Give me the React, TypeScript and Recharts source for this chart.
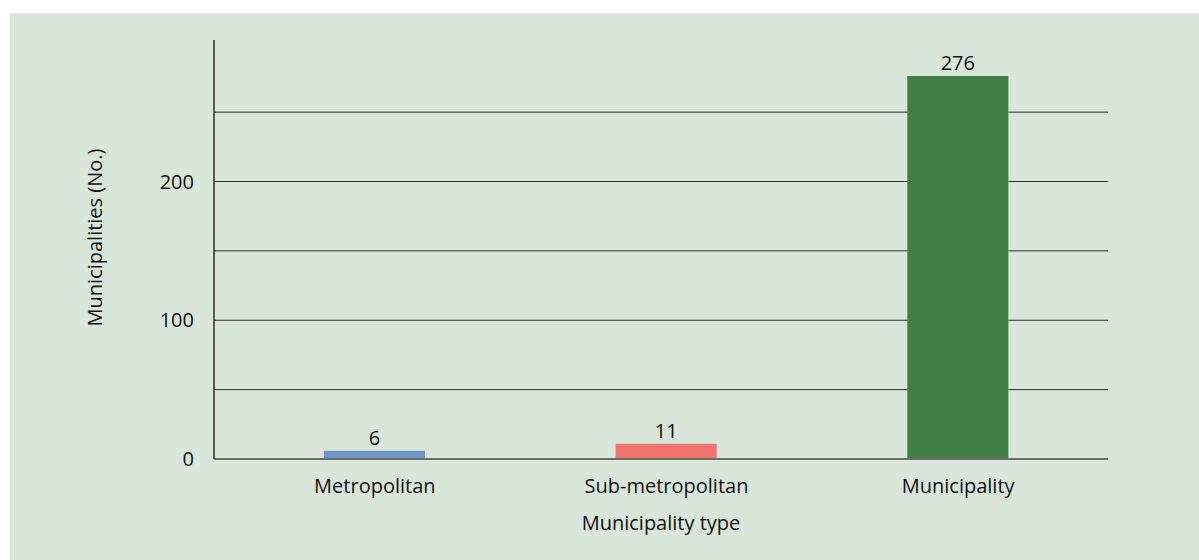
import React from "react";
import {
  BarChart,
  Bar,
  XAxis,
  YAxis,
  CartesianGrid,
  Cell,
  LabelList,
  Label,
} from "recharts";

const categories = ["Metropolitan", "Sub-metropolitan", "Municipality"];
const counts = [6, 11, 276];
const barColors = ["#7094cd", "#f2746f", "#3f7f45"];
const yTicks = [0, 50, 100, 150, 200, 250];
const labelledTicks = [0, 100, 200];

const data = categories.map((name, i) => ({ name, count: counts[i] }));

const FONT = "'Open Sans', Lato, sans-serif";
const textStyle = { fontSize: 20, fill: "#111", fontFamily: FONT };

export default function App() {
  return (
    <div
      style={{
        position: "absolute",
        left: 10,
        top: 13,
        width: 1189,
        height: 547,
        background: "#d9e6da",
        fontFamily: FONT,
      }}
    >
      <BarChart
        width={1189}
        height={547}
        data={data}
        margin={{ top: 27, right: 91, bottom: 71, left: 0 }}
      >
        <CartesianGrid
          vertical={false}
          stroke="#2f2f2f"
          strokeWidth={1}
          horizontalValues={yTicks}
        />
        <XAxis
          dataKey="name"
          height={30}
          padding={{ left: 15, right: 4 }}
          axisLine={{ stroke: "#6b6f6b", strokeWidth: 2 }}
          tickLine={false}
          tick={textStyle}
          dy={12}
        >
          <Label
            value="Municipality type"
            position="bottom"
            offset={27}
            style={textStyle}
          />
        </XAxis>
        <YAxis
          width={204}
          domain={[0, 302]}
          ticks={yTicks}
          interval={0}
          axisLine={{ stroke: "#2f2f2f", strokeWidth: 1.5 }}
          tickLine={false}
          tickFormatter={(v: number) => (labelledTicks.includes(v) ? String(v) : "")}
          tick={textStyle}
          dx={-12}
        >
          <Label
            value="Municipalities (No.)"
            angle={-90}
            position="insideLeft"
            offset={85}
            dy={-12}
            style={{ ...textStyle, textAnchor: "middle" }}
          />
        </YAxis>
        <Bar dataKey="count" barSize={101} isAnimationActive={false}>
          {data.map((d, i) => (
            <Cell key={d.name} fill={barColors[i]} />
          ))}
          <LabelList dataKey="count" position="top" offset={6} style={textStyle} />
        </Bar>
      </BarChart>
    </div>
  );
}
